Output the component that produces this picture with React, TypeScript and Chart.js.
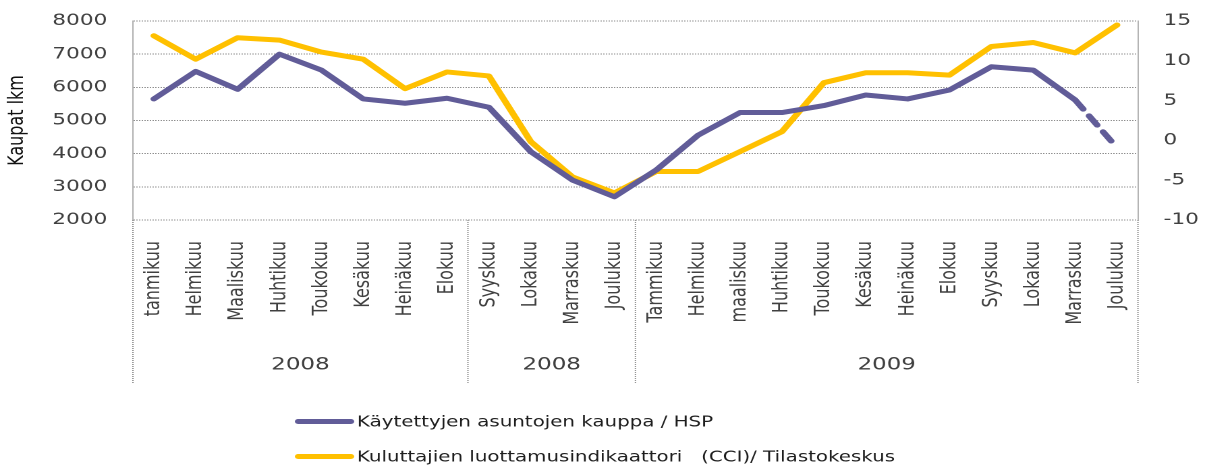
import React, { useEffect, useRef } from 'react';
import { Chart, registerables } from 'chart.js';

Chart.register(...registerables);

// ---- data ----
const months = [
  'tanmikuu', 'Helmikuu', 'Maaliskuu', 'Huhtikuu', 'Toukokuu', 'Kesäkuu', 'Heinäkuu', 'Elokuu',
  'Syyskuu', 'Lokakuu', 'Marraskuu', 'Joulukuu',
  'Tammikuu', 'Helmikuu', 'maaliskuu', 'Huhtikuu', 'Toukokuu', 'Kesäkuu', 'Heinäkuu', 'Elokuu',
  'Syyskuu', 'Lokakuu', 'Marraskuu', 'Joulukuu',
];
const groupLabels = ['2008', '2008', '2009'];
const groupSizes = [8, 4, 12];

const hspSales = [
  5650, 6480, 5940, 7000, 6520, 5650, 5520, 5670, 5400, 4060, 3200, 2700,
  3510, 4560, 5240, 5240, 5450, 5770, 5650, 5920, 6620, 6520, 5620, 4180,
];
const cciIndex = [
  13.15, 10.2, 12.9, 12.6, 11.1, 10.2, 6.5, 8.6, 8.1, -0.15, -4.6, -6.6,
  -3.9, -3.9, -1.4, 1.1, 7.25, 8.5, 8.5, 8.2, 11.8, 12.3, 11.0, 14.5,
];
const seriesNames = [
  'Käytettyjen asuntojen kauppa / HSP',
  'Kuluttajien luottamusindikaattori   (CCI)/ Tilastokeskus',
];
const leftAxis = { min: 2000, max: 8000, step: 1000, title: 'Kaupat lkm' };
const rightAxis = { min: -10, max: 15, step: 5 };

// ---- styles ----
const PAGE_W = 1205;
const PAGE_H = 465;
const CANVAS_W = 893;
const STRETCH = PAGE_W / CANVAS_W;
const PURPLE = '#615c98';
const YELLOW = '#ffc000';
const GRID = '#8e8e8e';
const TEXT = '#404040';
const FONT = 'DejaVu Sans';
const PLOT_TOP = 21;
const PLOT_BOTTOM = 220;

const groupPlugin = {
  id: 'groupsAndLegend',
  afterDraw(chart: any) {
    const { ctx, chartArea } = chart;
    const x = chart.scales.x;
    ctx.save();
    // group separators
    const bounds: number[] = [x.left];
    let idx = 0;
    groupSizes.forEach((n) => {
      idx += n;
      if (idx >= months.length) bounds.push(x.right);
      else bounds.push((x.getPixelForValue(idx - 1) + x.getPixelForValue(idx)) / 2);
    });
    ctx.strokeStyle = GRID;
    ctx.lineWidth = 1;
    ctx.setLineDash([1, 1]);
    bounds.forEach((bx) => {
      ctx.beginPath();
      ctx.moveTo(bx, chartArea.bottom);
      ctx.lineTo(bx, 383);
      ctx.stroke();
    });
    ctx.setLineDash([]);
    // group labels
    ctx.fillStyle = TEXT;
    ctx.font = `17px "${FONT}"`;
    ctx.textAlign = 'center';
    ctx.textBaseline = 'middle';
    groupLabels.forEach((g, i) => {
      ctx.fillText(g, (bounds[i] + bounds[i + 1]) / 2, 365);
    });
    // legend
    chart.data.datasets.forEach((ds: any, i: number) => {
      const y = 421.5 + 35 * i;
      ctx.strokeStyle = ds.borderColor;
      ctx.lineWidth = 5;
      ctx.lineCap = 'round';
      ctx.beginPath();
      ctx.moveTo(221, y);
      ctx.lineTo(260, y);
      ctx.stroke();
      ctx.fillStyle = '#1e1e1e';
      ctx.font = `14.7px "${FONT}"`;
      ctx.textAlign = 'left';
      ctx.textBaseline = 'middle';
      ctx.fillText(ds.label, 264.5, y + 1);
    });
    ctx.restore();
  },
};

export default function App() {
  const ref = useRef<HTMLCanvasElement | null>(null);

  useEffect(() => {
    const canvas = ref.current;
    if (!canvas) return;
    const lastIdx = hspSales.length - 1;
    const chart = new Chart(canvas, {
      type: 'line',
      data: {
        labels: months,
        datasets: [
          {
            label: seriesNames[0],
            data: hspSales,
            yAxisID: 'y',
            borderColor: PURPLE,
            backgroundColor: PURPLE,
            borderWidth: 5,
            pointRadius: 0,
            tension: 0,
            borderJoinStyle: 'round',
            borderCapStyle: 'round',
            segment: {
              borderDash: (c: any) => (c.p1DataIndex === lastIdx ? [11, 8] : undefined),
            },
          },
          {
            label: seriesNames[1],
            data: cciIndex,
            yAxisID: 'y1',
            borderColor: YELLOW,
            backgroundColor: YELLOW,
            borderWidth: 5,
            pointRadius: 0,
            tension: 0,
            borderJoinStyle: 'round',
            borderCapStyle: 'round',
          },
        ],
      },
      options: {
        animation: false,
        responsive: false,
        maintainAspectRatio: false,
        devicePixelRatio: 2,
        layout: { padding: { top: PLOT_TOP, left: 0, right: 0, bottom: 0 } },
        plugins: {
          legend: { display: false },
          tooltip: { enabled: false },
        },
        scales: {
          x: {
            type: 'category',
            offset: true,
            grid: { display: false, drawTicks: false },
            border: { display: false },
            ticks: {
              autoSkip: false,
              maxRotation: 90,
              minRotation: 90,
              padding: 21,
              color: TEXT,
              font: { family: FONT, size: 16 },
            },
            afterFit: (s: any) => {
              s.height = PAGE_H - PLOT_BOTTOM;
            },
          },
          y: {
            position: 'left',
            min: leftAxis.min,
            max: leftAxis.max,
            ticks: {
              stepSize: leftAxis.step,
              padding: 0,
              color: TEXT,
              font: { family: FONT, size: 16 },
              callback: (v: any) => String(v),
            },
            grid: {
              color: GRID,
              lineWidth: 1,
              drawTicks: true,
              tickLength: 19,
              tickColor: 'rgba(0,0,0,0)',
            },
            border: { display: true, color: '#b4b4b4', dash: [1, 1] },
            title: {
              display: true,
              text: leftAxis.title,
              color: '#111',
              font: { family: FONT, size: 16 },
              padding: { top: 3, bottom: 0 },
            },
            afterFit: (s: any) => {
              s.width = 98.5;
            },
          },
          y1: {
            position: 'right',
            min: rightAxis.min,
            max: rightAxis.max,
            ticks: {
              stepSize: rightAxis.step,
              padding: 0,
              color: TEXT,
              font: { family: FONT, size: 16 },
              callback: (v: any) => String(v),
            },
            grid: {
              display: false,
              drawOnChartArea: false,
              drawTicks: true,
              tickLength: 19,
              tickColor: 'rgba(0,0,0,0)',
            },
            border: { display: true, color: '#b4b4b4' },
            afterFit: (s: any) => {
              s.width = CANVAS_W - 843.3;
            },
          },
        },
      },
      plugins: [groupPlugin],
    } as any);
    return () => chart.destroy();
  }, []);

  return (
    <div
      style={{
        position: 'fixed',
        left: 0,
        top: 0,
        width: PAGE_W,
        height: PAGE_H,
        overflow: 'hidden',
        background: '#fff',
      }}
    >
      <div
        style={{
          width: CANVAS_W,
          height: PAGE_H,
          transform: `scaleX(${STRETCH})`,
          transformOrigin: '0 0',
        }}
      >
        <canvas ref={ref} width={CANVAS_W} height={PAGE_H} style={{ display: 'block' }} />
      </div>
    </div>
  );
}
